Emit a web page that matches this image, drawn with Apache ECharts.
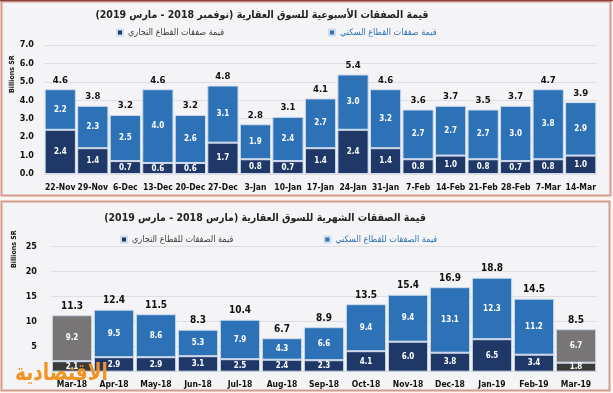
<!DOCTYPE html>
<html><head><meta charset="utf-8">
<script src="https://cdn.jsdelivr.net/npm/echarts@6/dist/echarts.min.js"></script>
<style>html,body{margin:0;padding:0;background:#fbf4f1;}#c{width:613px;height:393px;}</style>
</head><body><div id="c"></div>
<script>
// ---- Weekly data ----
const weeks = ['22-Nov','29-Nov','6-Dec','13-Dec','20-Dec','27-Dec','3-Jan','10-Jan','17-Jan','24-Jan','31-Jan','7-Feb','14-Feb','21-Feb','28-Feb','7-Mar','14-Mar'];
const weeklyCommercial = [2.4,1.4,0.7,0.6,0.6,1.7,0.8,0.7,1.4,2.4,1.4,0.8,1.0,0.8,0.7,0.8,1.0];
const weeklyResidential = [2.2,2.3,2.5,4.0,2.6,3.1,1.9,2.4,2.7,3.0,3.2,2.7,2.7,2.7,3.0,3.8,2.9];
const weeklyTotal = [4.6,3.8,3.2,4.6,3.2,4.8,2.8,3.1,4.1,5.4,4.6,3.6,3.7,3.5,3.7,4.7,3.9];
const raisedWeekLabels = ['7-Feb','21-Feb'];
// ---- Monthly data ----
const months = ['Mar-18','Apr-18','May-18','Jun-18','Jul-18','Aug-18','Sep-18','Oct-18','Nov-18','Dec-18','Jan-19','Feb-19','Mar-19'];
const monthlyCommercial = [2.1,2.9,2.9,3.1,2.5,2.4,2.3,4.1,6.0,3.8,6.5,3.4,1.8];
const monthlyResidential = [9.2,9.5,8.6,5.3,7.9,4.3,6.6,9.4,9.4,13.1,12.3,11.2,6.7];
const monthlyTotal = [11.3,12.4,11.5,8.3,10.4,6.7,8.9,13.5,15.4,16.9,18.8,14.5,8.5];
const partialMonths = ['Mar-18','Mar-19'];
// ---- Text ----
const title1 = 'قيمة الصفقات الأسبوعية للسوق العقارية (نوفمبر 2018 - مارس 2019)';
const title2 = 'قيمة الصفقات الشهرية للسوق العقارية (مارس 2018 - مارس 2019)';
const w_res = 'قيمة صفقات القطاع السكني', w_com = 'قيمة صفقات القطاع التجاري';
const m_res = 'قيمة الصفقات للقطاع السكني', m_com = 'قيمة الصفقات للقطاع التجاري';
const yName = 'Billions SR';
const watermark = 'الاقتصادية';

const C_RES = '#2d72b6', C_COM = '#1f3868', G_RES = '#787576', G_COM = '#3b3b3b';
const LATIN = "'DejaVu Sans Condensed','DejaVu Sans',sans-serif";
const AR = "'DejaVu Sans Condensed','DejaVu Sans',sans-serif";

const chart = echarts.init(document.getElementById('c'), null, {renderer:'canvas'});
const inLabel = {show:true, color:'#fff', fontWeight:'bold', fontSize:8, fontFamily:LATIN, formatter:p=>p.value.toFixed(1)};
function totalLabel(arr, fs){return {show:true, position:'top', distance:4, color:'#111', fontWeight:'bold', fontSize:fs, fontFamily:LATIN, formatter:p=>arr[p.dataIndex].toFixed(1)};}
const barBorder = {borderColor:'#cfdcec', borderWidth:1};
const yNameFont = "bold 7px 'DejaVu Sans Condensed','DejaVu Sans'";

chart.setOption({
  animation:false,
  graphic:[
    {type:'rect', z:-10, shape:{x:1.5,y:1.5,width:609,height:194}, style:{fill:'#f4f4f6', stroke:'#d39a8d', lineWidth:2}},
    {type:'line', z:-9, shape:{x1:0,y1:0.5,x2:613,y2:0.5}, style:{stroke:'#8a4338', lineWidth:1.5}},
    {type:'rect', z:-10, shape:{x:1.5,y:201.5,width:608,height:189}, style:{fill:'#f4f4f6', stroke:'#d39a8d', lineWidth:2}},
    {type:'text', z:100, x:15, y:362, scaleX:0.86, style:{text:watermark, fill:'#f39322', font:"bold 24px 'DejaVu Sans Condensed','DejaVu Sans'"}},
    {type:'text', z:50, x:9, y:93, rotation:Math.PI/2, style:{text:yName, fill:'#111', font:yNameFont}},
    {type:'text', z:50, x:11, y:268, rotation:Math.PI/2, style:{text:yName, fill:'#111', font:yNameFont}}
  ],
  title:[
    {text:title1, top:10, left:262, textAlign:'center', padding:0, textStyle:{fontFamily:AR, fontSize:10.5, fontWeight:'bold', color:'#222'}},
    {text:title2, top:213, left:265, textAlign:'center', padding:0, textStyle:{fontFamily:AR, fontSize:10.5, fontWeight:'bold', color:'#222'}}
  ],
  legend:[
    {left:116, top:28, itemWidth:6, itemHeight:6, itemGap:104, icon:'rect', padding:0,
     data:[{name:w_com, textStyle:{color:'#3a3a3a'}},{name:w_res, textStyle:{color:'#2d72b6'}}],
     textStyle:{fontFamily:AR, fontSize:9}},
    {left:120, top:235, itemWidth:6, itemHeight:6, itemGap:90, icon:'rect', padding:0,
     data:[{name:m_com, textStyle:{color:'#3a3a3a'}},{name:m_res, textStyle:{color:'#2d72b6'}}],
     textStyle:{fontFamily:AR, fontSize:9}}
  ],
  grid:[
    {left:44, right:16, top:45, height:129},
    {left:51, right:16, top:246.7, height:125}
  ],
  xAxis:[
    {type:'category', gridIndex:0, data:weeks, axisLine:{show:false}, axisTick:{show:false},
     axisLabel:{interval:0, margin:9, color:'#111', fontWeight:'bold', fontSize:8.5, fontFamily:LATIN,
       formatter:v=>raisedWeekLabels.includes(v)?'{up|'+v+'}':v,
       rich:{up:{color:'#111', fontWeight:'bold', fontSize:8.5, fontFamily:LATIN, padding:[0,0,7,0]}}}},
    {type:'category', gridIndex:1, data:months, axisLine:{show:false}, axisTick:{show:false},
     axisLabel:{interval:0, margin:9, color:'#111', fontWeight:'bold', fontSize:8.5, fontFamily:LATIN}}
  ],
  yAxis:[
    {type:'value', gridIndex:0, min:0, max:7, interval:1,
     axisLabel:{formatter:v=>v.toFixed(1), color:'#111', fontWeight:'bold', fontSize:9, fontFamily:LATIN, margin:10},
     splitLine:{lineStyle:{color:'#dedee2'}}},
    {type:'value', gridIndex:1, min:0, max:25, interval:5,
     axisLabel:{showMinLabel:false, color:'#111', fontWeight:'bold', fontSize:9, fontFamily:LATIN, margin:14},
     splitLine:{lineStyle:{color:'#dedee2'}}}
  ],
  series:[
    {name:w_com, type:'bar', stack:'w', xAxisIndex:0, yAxisIndex:0, data:weeklyCommercial, barCategoryGap:'4%',
     itemStyle:Object.assign({color:C_COM}, barBorder), label:inLabel},
    {name:w_res, type:'bar', stack:'w', xAxisIndex:0, yAxisIndex:0, data:weeklyResidential, barCategoryGap:'4%',
     itemStyle:Object.assign({color:C_RES}, barBorder), label:inLabel},
    {name:'wt', type:'bar', stack:'w', xAxisIndex:0, yAxisIndex:0, data:weeks.map(()=>0), barCategoryGap:'4%',
     itemStyle:{color:'transparent'}, label:totalLabel(weeklyTotal, 9.5)},
    {name:m_com, type:'bar', stack:'m', xAxisIndex:1, yAxisIndex:1, barCategoryGap:'4%',
     data:monthlyCommercial.map((v,i)=>partialMonths.includes(months[i])?{value:v,itemStyle:{color:G_COM}}:v),
     itemStyle:Object.assign({color:C_COM}, barBorder), label:inLabel},
    {name:m_res, type:'bar', stack:'m', xAxisIndex:1, yAxisIndex:1, barCategoryGap:'4%',
     data:monthlyResidential.map((v,i)=>partialMonths.includes(months[i])?{value:v,itemStyle:{color:G_RES}}:v),
     itemStyle:Object.assign({color:C_RES}, barBorder), label:inLabel},
    {name:'mt', type:'bar', stack:'m', xAxisIndex:1, yAxisIndex:1, data:months.map(()=>0), barCategoryGap:'4%',
     itemStyle:{color:'transparent'}, label:totalLabel(monthlyTotal, 10)}
  ]
});
</script></body></html>
